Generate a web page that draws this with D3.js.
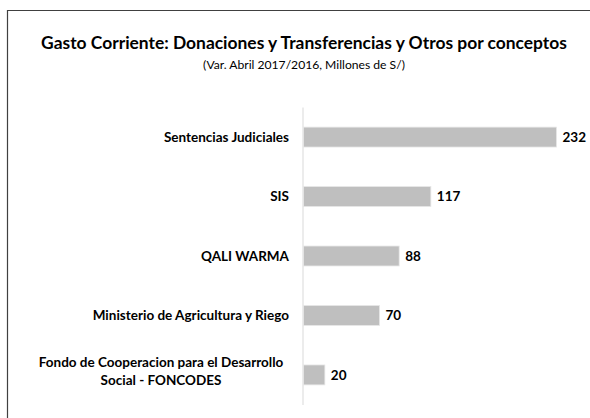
<!DOCTYPE html>
<html>
<head>
<meta charset="utf-8">
<script src="https://cdn.jsdelivr.net/npm/d3@7"></script>
<style>
  body { margin: 0; background: #fff; }
  svg { display: block; font-family: Lato, "Open Sans", sans-serif; }
</style>
</head>
<body>
<div id="chart"></div>
<script>
var categories = [
    ["Sentencias Judiciales"],
    ["SIS"],
    ["QALI WARMA"],
    ["Ministerio de Agricultura y Riego"],
    ["Fondo de Cooperacion para el Desarrollo", "Social - FONCODES"]
];
var values = [232, 117, 88, 70, 20];
var title = "Gasto Corriente: Donaciones y Transferencias y Otros por conceptos";
var subtitle = "(Var. Abril 2017/2016, Millones de S/)";

var width = 590, height = 418;

var svg = d3.select("#chart").append("svg")
    .attr("width", width)
    .attr("height", height);

// frame (only top and left edges visible)
svg.append("line")
    .attr("x1", 7).attr("y1", 10.5).attr("x2", width).attr("y2", 10.5)
    .attr("stroke", "#404040").attr("stroke-width", 1.2);
svg.append("line")
    .attr("x1", 7.5).attr("y1", 10).attr("x2", 7.5).attr("y2", height)
    .attr("stroke", "#404040").attr("stroke-width", 1.2);

// size a text so it spans the wanted width
function fitText(sel, size, wanted) {
    sel.attr("font-size", size);
    var w = sel.node().getComputedTextLength();
    sel.attr("font-size", size * wanted / w);
}

var titleText = svg.append("text")
    .attr("x", 304).attr("y", 49)
    .attr("text-anchor", "middle")
    .attr("font-weight", "bold")
    .attr("fill", "#000")
    .text(title);
fitText(titleText, 19, 526);

var subText = svg.append("text")
    .attr("x", 304).attr("y", 69)
    .attr("text-anchor", "middle")
    .attr("fill", "#000")
    .text(subtitle);
fitText(subText, 12.5, 202);

var x = d3.scaleLinear()
    .domain([0, 232])
    .range([303, 556.5]);

var y = d3.scaleBand()
    .domain(d3.range(values.length))
    .range([107.5, 404.5])
    .paddingInner(0.665)
    .paddingOuter(0.33);

// axis line
svg.append("line")
    .attr("x1", x(0)).attr("x2", x(0))
    .attr("y1", 107.5).attr("y2", 405)
    .attr("stroke", "#d9d9d9").attr("stroke-width", 1);

svg.selectAll(".bar")
    .data(values)
    .enter().append("rect")
    .attr("class", "bar")
    .attr("x", x(0) + 0.5)
    .attr("y", function(d, i) { return y(i); })
    .attr("width", function(d) { return x(d) - x(0) - 0.5; })
    .attr("height", y.bandwidth())
    .attr("fill", "#bfbfbf")
    .attr("stroke", "#e6e6e6")
    .attr("stroke-width", 0.8);

svg.selectAll(".val")
    .data(values)
    .enter().append("text")
    .attr("class", "val")
    .attr("x", function(d) { return x(d) + 6; })
    .attr("y", function(d, i) { return y(i) + y.bandwidth() / 2; })
    .attr("dy", "0.35em")
    .attr("font-size", 13.5).attr("font-weight", "bold")
    .attr("fill", "#000")
    .text(function(d) { return d; });

var labels = svg.selectAll(".lab")
    .data(categories)
    .enter().append("text")
    .attr("class", "lab")
    .attr("font-size", 13.5).attr("font-weight", "bold")
    .attr("fill", "#000")
    .attr("text-anchor", function(d) { return d.length > 1 ? "middle" : "end"; })
    .attr("transform", function(d, i) {
        var cy = y(i) + y.bandwidth() / 2;
        var lx = d.length > 1 ? 161 : 289;
        return "translate(" + lx + "," + cy + ")";
    });

labels.each(function(d) {
    var t = d3.select(this);
    var n = d.length;
    d.forEach(function(line, k) {
        t.append("tspan")
            .attr("x", 0)
            .attr("y", (k - (n - 1) / 2) * 18 - (n > 1 ? 4 : 0))
            .attr("dy", "0.35em")
            .text(line);
    });
});
</script>
</body>
</html>
